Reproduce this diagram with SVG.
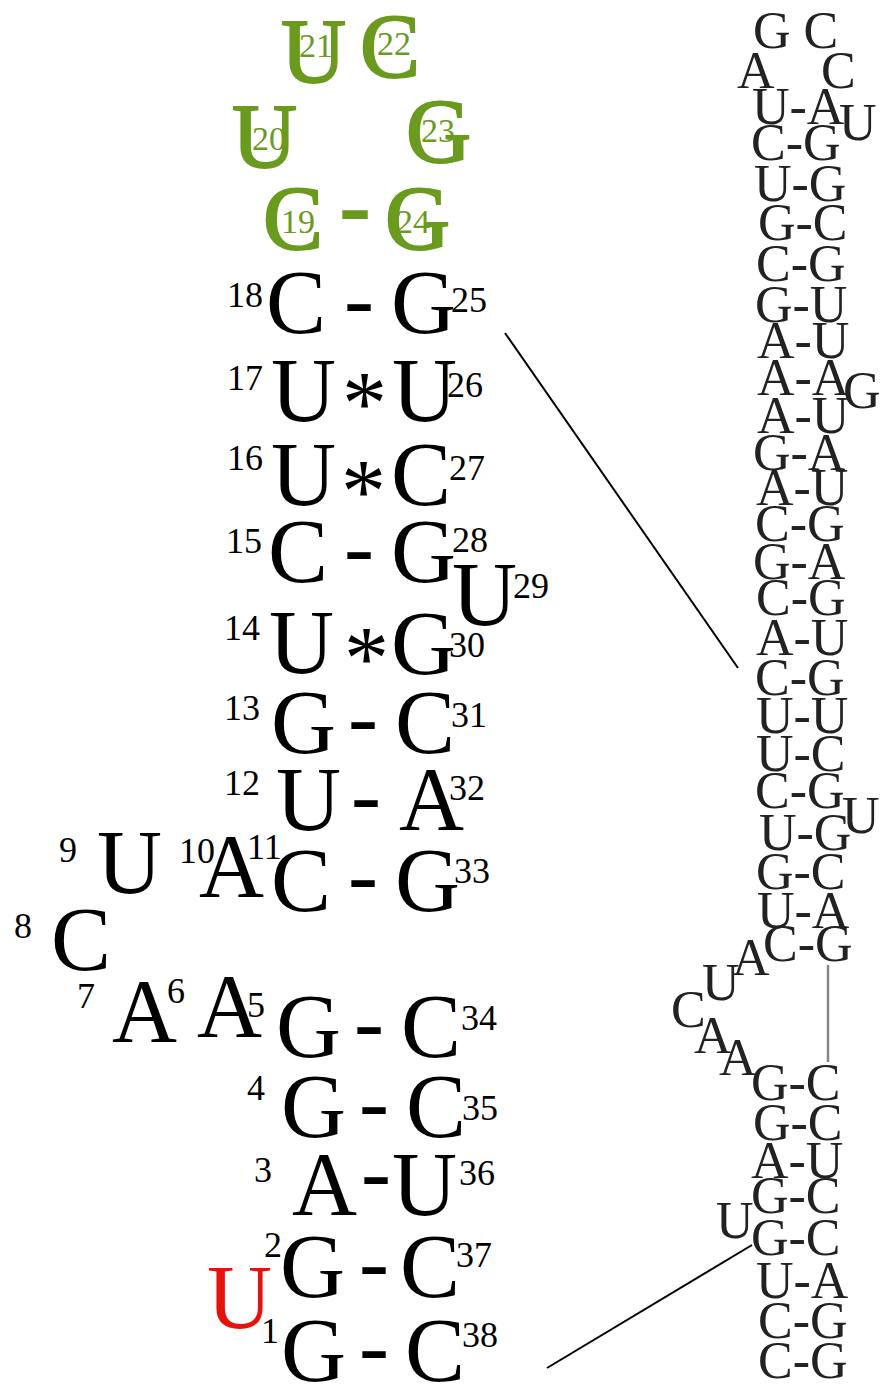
<svg xmlns="http://www.w3.org/2000/svg" width="884" height="1385" viewBox="0 0 884 1385">
<style>
text { font-family: "Liberation Serif", "Times New Roman", serif; }
.b { font-size: 90px; fill: #000; }
.n { font-size: 36px; fill: #000; }
.d { font-size: 90px; fill: #000; }
.g { font-size: 90px; fill: #6a9a1e; stroke: #6a9a1e; stroke-width: 2; }
.gn { font-size: 34px; fill: #6a9a1e; }
.r { font-size: 90px; fill: #e8120c; }
.s { font-size: 52px; fill: #222; }
.ln { stroke: #000; stroke-width: 2; fill: none; }
</style>
<rect width="884" height="1385" fill="#fff"/>

<g id="loop">
<text class="g" x="281" y="82">U</text><text class="gn" x="299" y="57">21</text>
<text class="g" x="360" y="77">C</text><text class="gn" x="377" y="55">22</text>
<text class="g" x="232" y="167">U</text><text class="gn" x="252" y="150">20</text>
<text class="g" x="406" y="162">G</text><text class="gn" x="421" y="142">23</text>
<text class="g" x="263" y="249">C</text><text class="gn" x="281" y="233">19</text>
<text class="g" x="340" y="236">-</text>
<text class="g" x="385" y="249">G</text><text class="gn" x="396" y="233">24</text>
</g>

<g id="stem">
<text class="n" x="227" y="307">18</text><text class="b" x="266" y="333">C</text><text class="d" x="344" y="329">-</text><text class="b" x="391" y="333">G</text><text class="n" x="451" y="312">25</text>
<text class="n" x="227" y="390">17</text><text class="b" x="271" y="421">U</text><text class="b" x="342" y="434">*</text><text class="b" x="392" y="421">U</text><text class="n" x="447" y="397">26</text>
<text class="n" x="227" y="470">16</text><text class="b" x="271" y="505">U</text><text class="b" x="341" y="522">*</text><text class="b" x="391" y="505">C</text><text class="n" x="449" y="480">27</text>
<text class="n" x="226" y="553">15</text><text class="b" x="268" y="582">C</text><text class="d" x="344" y="577">-</text><text class="b" x="391" y="582">G</text><text class="n" x="452" y="552">28</text>
<text class="b" x="452" y="625">U</text><text class="n" x="513" y="598">29</text>
<text class="n" x="224" y="640">14</text><text class="b" x="269" y="673">U</text><text class="b" x="344" y="689">*</text><text class="b" x="391" y="674">G</text><text class="n" x="449" y="657">30</text>
<text class="n" x="224" y="720">13</text><text class="b" x="271" y="753">G</text><text class="d" x="348" y="747">-</text><text class="b" x="395" y="753">C</text><text class="n" x="451" y="727">31</text>
<text class="n" x="224" y="795">12</text><text class="b" x="276" y="830">U</text><text class="d" x="351" y="825">-</text><text class="b" x="399" y="830">A</text><text class="n" x="449" y="800">32</text>
<text class="n" x="247" y="859">11</text><text class="b" x="271" y="911">C</text><text class="d" x="348" y="905">-</text><text class="b" x="395" y="911">G</text><text class="n" x="454" y="883">33</text>
</g>

<g id="bulge">
<text class="n" x="59" y="862">9</text><text class="b" x="97" y="893">U</text>
<text class="n" x="179" y="863">10</text><text class="b" x="199" y="897">A</text>
<text class="n" x="14" y="938">8</text><text class="b" x="51" y="970">C</text>
<text class="n" x="77" y="1008">7</text><text class="b" x="112" y="1042">A</text>
<text class="n" x="167" y="1003">6</text><text class="b" x="197" y="1037">A</text>
<text class="n" x="247" y="1017">5</text>
</g>

<g id="lowerstem">
<text class="b" x="276" y="1057">G</text><text class="d" x="354" y="1052">-</text><text class="b" x="401" y="1057">C</text><text class="n" x="461" y="1030">34</text>
<text class="n" x="247" y="1100">4</text><text class="b" x="281" y="1137">G</text><text class="d" x="359" y="1132">-</text><text class="b" x="406" y="1137">C</text><text class="n" x="462" y="1120">35</text>
<text class="n" x="254" y="1182">3</text><text class="b" x="292" y="1215">A</text><text class="d" x="361" y="1202">-</text><text class="b" x="392" y="1215">U</text><text class="n" x="459" y="1185">36</text>
<text class="n" x="264" y="1257">2</text><text class="b" x="280" y="1297">G</text><text class="d" x="359" y="1292">-</text><text class="b" x="400" y="1297">C</text><text class="n" x="456" y="1267">37</text>
<text class="r" x="207" y="1328">U</text>
<text class="n" x="261" y="1343">1</text><text class="b" x="281" y="1381">G</text><text class="d" x="359" y="1376">-</text><text class="b" x="405" y="1381">C</text><text class="n" x="462" y="1347">38</text>
</g>

<g id="fullhelix">
<text class="s" x="753" y="48">G C</text>
<text class="s" x="737" y="88">A</text><text class="s" x="821" y="88">C</text>
<text class="s" x="752" y="124">U-A</text><text class="s" x="839" y="140">U</text>
<text class="s" x="751" y="160">C-G</text>
<text class="s" x="754" y="201">U-G</text>
<text class="s" x="758" y="240">G-C</text>
<text class="s" x="756" y="281">C-G</text>
<text class="s" x="755" y="322">G-U</text>
<text class="s" x="757" y="358">A-U</text>
<text class="s" x="757" y="395">A-A</text><text class="s" x="843" y="408">G</text>
<text class="s" x="757" y="433">A-U</text>
<text class="s" x="753" y="470">G-A</text>
<text class="s" x="756" y="505">A-U</text>
<text class="s" x="755" y="541">C-G</text>
<text class="s" x="753" y="579">G-A</text>
<text class="s" x="756" y="615">C-G</text>
<text class="s" x="756" y="655">A-U</text>
<text class="s" x="755" y="695">C-G</text>
<text class="s" x="756" y="733">U-U</text>
<text class="s" x="756" y="771">U-C</text>
<text class="s" x="755" y="808">C-G</text><text class="s" x="842" y="833">U</text>
<text class="s" x="759" y="850">U-G</text>
<text class="s" x="756" y="889">G-C</text>
<text class="s" x="757" y="928">U-A</text>
<text class="s" x="763" y="961">C-G</text>
<text class="s" x="732" y="975">A</text>
<text class="s" x="702" y="1000">U</text>
<text class="s" x="671" y="1027">C</text>
<text class="s" x="694" y="1053">A</text>
<text class="s" x="719" y="1075">A</text>
<text class="s" x="751" y="1100">G-C</text>
<text class="s" x="753" y="1140">G-C</text>
<text class="s" x="751" y="1178">A-U</text>
<text class="s" x="751" y="1213">G-C</text><text class="s" x="716" y="1238">U</text>
<text class="s" x="751" y="1255">G-C</text>
<text class="s" x="756" y="1298">U-A</text>
<text class="s" x="758" y="1338">C-G</text>
<text class="s" x="758" y="1378">C-G</text>
</g>

<g id="connectors">
<line class="ln" x1="505" y1="333" x2="738" y2="668"/>
<line class="ln" x1="547" y1="1368" x2="752" y2="1245"/>
<line x1="828" y1="965" x2="828" y2="1062" stroke="#888" stroke-width="2.5"/>
</g>
</svg>
